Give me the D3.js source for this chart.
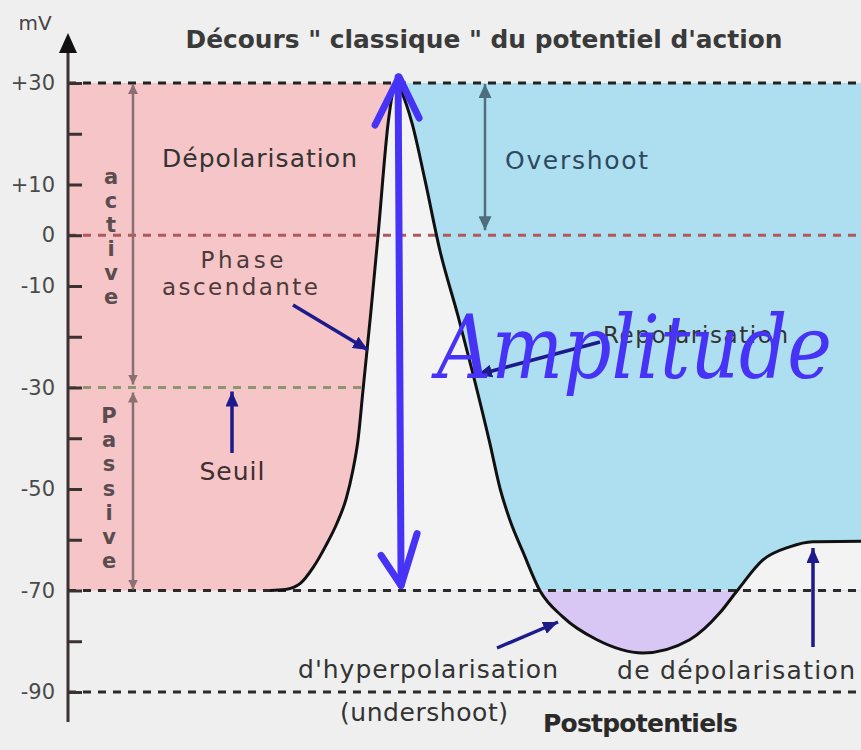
<!DOCTYPE html>
<html><head><meta charset="utf-8">
<script src="https://cdn.jsdelivr.net/npm/d3@7"></script>
<style>body{margin:0;background:#efefef}svg{display:block}</style>
</head><body><svg id="c" width="861" height="750"></svg>
<script>
// ---- data ----
const timeMs = [2.55,2.74,2.93,3.09,3.25,3.39,3.51,3.59,3.66,3.72,3.82,3.91,4.04,4.10,4.15,4.20,4.34,4.50,4.69,4.92,5.11,5.32,5.45,5.57,5.74,5.95,6.24,6.67,7.25,7.84,8.22,8.44,8.76,9.10,9.39,10.0];
const membraneMv = [-70,-69.8,-68.6,-65.5,-61.2,-56.8,-51.8,-46.5,-40,-30.5,-15,0,22.5,28.5,30,28.5,22,11,-3,-16,-27.5,-41,-50,-56,-62.5,-70,-75.2,-79.7,-82.3,-79.7,-74.4,-70,-64,-61.4,-60.4,-60.3];
const tickValues = [-90,-80,-70,-60,-50,-40,-30,-20,-10,0,10,20,30];
const tickLabels = [30,10,0,-10,-30,-50,-70,-90];
const peakLevel = 30, zeroLevel = 0, thresholdLevel = -30, restLevel = -70, floorLevel = -90;
const peakTime = 4.15;
const activeLetters = ["a","c","t","i","v","e"];
const passiveLetters = ["P","a","s","s","i","v","e"];

const data = timeMs.map((t,i)=>({t, v: membraneMv[i]}));

// ---- scales ----
const W = 861, H = 750;
const x = d3.scaleLinear().domain([0,10]).range([68,861]);
const y = d3.scaleLinear().domain([floorLevel, peakLevel]).range([692,83]);
const svg = d3.select("#c");
const defs = svg.append("defs");

function marker(id, color, len, wid){
  defs.append("marker").attr("id",id).attr("viewBox",`0 0 ${len} ${wid}`)
    .attr("refX",len).attr("refY",wid/2).attr("markerWidth",len).attr("markerHeight",wid)
    .attr("markerUnits","userSpaceOnUse").attr("orient","auto-start-reverse")
    .append("path").attr("d",`M0,0L${len},${wid/2}L0,${wid}Z`).attr("fill",color);
}
marker("navy","#1d1a8c",15,13);
marker("brown","#8c6f73",10,10);
marker("slate","#4d6e7c",14,13);

defs.append("clipPath").attr("id","above").append("rect")
  .attr("x",0).attr("y",0).attr("width",W).attr("height",y(restLevel));
defs.append("clipPath").attr("id","below").append("rect")
  .attr("x",0).attr("y",y(restLevel)).attr("width",W).attr("height",H);

// background
svg.append("rect").attr("width",W).attr("height",H).attr("fill","#efefef");

// regions
svg.append("rect").attr("x",x(0)).attr("y",y(peakLevel))
  .attr("width",x(peakTime)-x(0)).attr("height",y(restLevel)-y(peakLevel)).attr("fill","#f5c5c7");
svg.append("rect").attr("x",x(peakTime)).attr("y",y(peakLevel))
  .attr("width",x(10)-x(peakTime)).attr("height",y(restLevel)-y(peakLevel)).attr("fill","#aedff1");

const area = d3.area().x(d=>x(d.t)).y0(y(restLevel)).y1(d=>y(d.v)).curve(d3.curveMonotoneX);
svg.append("path").datum(data).attr("d",area).attr("fill","#f3f3f3").attr("clip-path","url(#above)");
svg.append("path").datum(data).attr("d",area).attr("fill","#d8c6f4").attr("clip-path","url(#below)");

// dashed reference lines
function hline(v, x1, x2, color){
  svg.append("line").attr("x1",x1).attr("x2",x2).attr("y1",y(v)).attr("y2",y(v))
    .attr("stroke",color).attr("stroke-width",3).attr("stroke-dasharray","8,7");
}
hline(peakLevel, x(0), W, "#222");
hline(zeroLevel, x(0), W, "#b0585c");
hline(thresholdLevel, x(0), x(3.72), "#8e9670");
hline(restLevel, x(0), W, "#2a2a2a");
hline(floorLevel, x(0), W, "#2a2a2a");

// action potential curve
svg.append("path").datum(data)
  .attr("d", d3.line().x(d=>x(d.t)).y(d=>y(d.v)).curve(d3.curveMonotoneX))
  .attr("fill","none").attr("stroke","#111").attr("stroke-width",3);

// axis
const axG = svg.append("g").attr("transform",`translate(${x(0)},0)`);
axG.call(d3.axisRight(y).tickValues(tickValues).tickSize(14).tickFormat(""));
axG.select(".domain").remove();
axG.selectAll(".tick line").attr("stroke","#3a3232").attr("stroke-width",3);
const lbG = svg.append("g").attr("transform",`translate(${x(0)},0)`);
lbG.call(d3.axisLeft(y).tickValues(tickLabels).tickSize(0).tickPadding(13)
  .tickFormat(d => d>0 ? "+"+d : String(d)));
lbG.select(".domain").remove();
lbG.selectAll(".tick text").attr("font-family","DejaVu Sans").attr("font-size",21).attr("fill","#4a4a4a");
svg.append("line").attr("x1",x(0)).attr("x2",x(0)).attr("y1",722).attr("y2",48)
  .attr("stroke","#3a3232").attr("stroke-width",3);
svg.append("path").attr("d",`M${x(0)},33L${x(0)+9},53L${x(0)-9},53Z`).attr("fill","#111");

// text helper
function txt(s, xx, yy, o={}){
  const t = svg.append("text").attr("x",xx).attr("y",yy).text(s)
    .attr("font-family",o.family||"DejaVu Sans").attr("font-size",o.size||25)
    .attr("font-weight",o.weight||"normal").attr("fill",o.fill||"#333")
    .attr("text-anchor",o.anchor||"start");
  if(o.len) t.attr("textLength",o.len).attr("lengthAdjust",o.adj||"spacing");
  if(o.style) t.attr("font-style",o.style);
  return t;
}
function arrow(x1,y1,x2,y2,id,color,w,both){
  const l = svg.append("line").attr("x1",x1).attr("y1",y1).attr("x2",x2).attr("y2",y2)
    .attr("stroke",color).attr("stroke-width",w).attr("marker-end",`url(#${id})`);
  if(both) l.attr("marker-start",`url(#${id})`);
}

txt("mV", 35, 30, {size:20, anchor:"middle", fill:"#444"});
txt("Décours \" classique \"  du potentiel d'action", 484, 48, {size:24, weight:"bold", anchor:"middle", fill:"#3a3a3a", len:597, adj:"spacingAndGlyphs"});

// active / passive
arrow(133, y(thresholdLevel)-3, 133, y(peakLevel)+1, "brown", "#8c6f73", 2.5, true);
arrow(133, y(thresholdLevel)+5, 133, y(restLevel)-1, "brown", "#8c6f73", 2.5, true);
activeLetters.forEach((c,i)=>txt(c, 111, 184+i*24, {size:21, weight:"bold", anchor:"middle", fill:"#5b4d4f"}));
passiveLetters.forEach((c,i)=>txt(c, 109, 423+i*24.2, {size:21, weight:"bold", anchor:"middle", fill:"#5b4d4f"}));

txt("Dépolarisation", 162, 167, {len:195});
txt("Phase", 242, 268, {size:23, anchor:"middle", len:83, fill:"#4b3a3a"});
txt("ascendante", 240, 295, {size:23, anchor:"middle", len:156, fill:"#4b3a3a"});
arrow(293, 305, 368, 350, "navy", "#1d1a8c", 3.5);
arrow(232, 453, 232, y(thresholdLevel)+4, "navy", "#1d1a8c", 3.5);
txt("Seuil", 232, 480, {anchor:"middle", len:65, fill:"#3f2f2f"});

arrow(485, y(zeroLevel)-5, 485, y(peakLevel)+1, "slate", "#4d6e7c", 2.5, true);
txt("Overshoot", 505, 169, {len:143, fill:"#2c4a5e"});

txt("Repolarisation", 603, 343, {size:23, len:185});
arrow(600, 342, 477, 375, "navy", "#1d1a8c", 3.5);

txt("d'hyperpolarisation", 298, 678, {len:260});
txt("(undershoot)", 340, 721, {len:168});
arrow(497, 648, 558, 622, "navy", "#1d1a8c", 3.5);
txt("de dépolarisation", 617, 679, {len:238});
arrow(813, 647, 813, 548, "navy", "#1d1a8c", 3.5);
txt("Postpotentiels", 543, 732, {weight:"bold", len:195, fill:"#2a2a2a"});

// handwritten amplitude annotation
const hw = "#4733f5";
const ax = x(peakTime);
svg.append("path").attr("d",`M${ax+1},${y(peakLevel)-6}L${ax+4},${y(restLevel)-5}`)
  .attr("stroke",hw).attr("stroke-width",7).attr("stroke-linecap","round").attr("fill","none");
svg.append("path").attr("d",`M${ax-22},${y(peakLevel)+42}L${ax+2},${y(peakLevel)-6}L${ax+22},${y(peakLevel)+35}`)
  .attr("stroke",hw).attr("stroke-width",7).attr("stroke-linecap","round").attr("stroke-linejoin","round").attr("fill","none");
svg.append("path").attr("d",`M${ax-16},${y(restLevel)-35}L${ax+4},${y(restLevel)-5}L${ax+20},${y(restLevel)-57}`)
  .attr("stroke",hw).attr("stroke-width",7).attr("stroke-linecap","round").attr("stroke-linejoin","round").attr("fill","none");
txt("Amplitude", 437, 378, {family:"DejaVu Serif", style:"italic", size:88, fill:hw, len:395, adj:"spacingAndGlyphs"});
</script></body></html>
